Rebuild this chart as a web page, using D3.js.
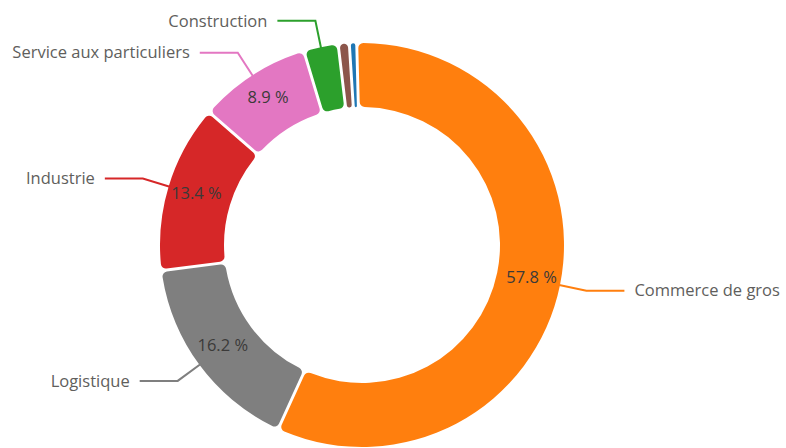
<!DOCTYPE html>
<html>
<head>
<meta charset="utf-8">
<script src="https://cdn.jsdelivr.net/npm/d3@7"></script>
<style>
  html, body { margin: 0; padding: 0; background: #ffffff; }
  svg { display: block; }
  text { font-family: "Open Sans", "Noto Sans", sans-serif; }
</style>
</head>
<body>
<svg id="chart" width="786" height="448"></svg>
<script>
// Répartition par secteur d'activité
const categories = ["Commerce de gros", "Logistique", "Industrie", "Service aux particuliers", "Construction", "Agriculture", "Autres"];
const shares = [57.8, 16.2, 13.4, 8.9, 2.6, 0.7, 0.4];
const colors = ["#ff7f0e", "#7f7f7f", "#d62728", "#e377c2", "#2ca02c", "#8c564b", "#1f77b4"];
// Only the larger sectors carry a name and a value label
const namedSectors = ["Commerce de gros", "Logistique", "Industrie", "Service aux particuliers", "Construction"];
const valueLabelled = ["Commerce de gros", "Logistique", "Industrie", "Service aux particuliers"];

const svg = d3.select("#chart");
const cx = 362, cy = 245;
const outerR = 202, innerR = 138;

const data = categories.map((c, i) => ({ name: c, value: shares[i], color: colors[i] }));

const startAngle = -1.5 * Math.PI / 180;
const pie = d3.pie()
  .value(d => d.value)
  .sort(null)
  .startAngle(startAngle)
  .endAngle(startAngle + 2 * Math.PI)
  .padAngle(0.012);

const arcs = pie(data);

const arc = d3.arc()
  .innerRadius(innerR)
  .outerRadius(outerR)
  .cornerRadius(5);

// Arc used only to place the value labels slightly outside the band's middle
const labelArc = d3.arc()
  .innerRadius(173)
  .outerRadius(173);

const g = svg.append("g").attr("transform", `translate(${cx},${cy})`);

g.selectAll("path.slice")
  .data(arcs)
  .enter()
  .append("path")
  .attr("class", "slice")
  .attr("d", arc)
  .attr("fill", d => d.data.color);

// Percentage labels inside the ring
const fmt = d3.format(".1f");
g.selectAll("text.pct")
  .data(arcs.filter(d => valueLabelled.includes(d.data.name)))
  .enter()
  .append("text")
  .attr("class", "pct")
  .attr("transform", d => {
    const [x, y] = labelArc.centroid(d);
    return `translate(${x},${y - 2})`;
  })
  .attr("text-anchor", "middle")
  .attr("dy", "0.35em")
  .attr("font-size", 16.5)
  .attr("fill", "#3b3a39")
  .text(d => fmt(d.data.value) + " %");

// Leader lines and sector names
const mid = d => (d.startAngle + d.endAngle) / 2;
const polar = (r, a) => [r * Math.sin(a), -r * Math.cos(a)];
const elbowR = 229, tail = 38, gap = 10;

const named = arcs.filter(d => namedSectors.includes(d.data.name));

g.selectAll("polyline.leader")
  .data(named)
  .enter()
  .append("polyline")
  .attr("class", "leader")
  .attr("fill", "none")
  .attr("stroke", d => d.data.color)
  .attr("stroke-width", 2)
  .attr("points", d => {
    const a = mid(d);
    const p0 = polar(outerR - 2, a);
    const p1 = polar(elbowR, a);
    const dir = Math.sin(a) >= 0 ? 1 : -1;
    const p2 = [p1[0] + dir * tail, p1[1]];
    return [p0, p1, p2].map(p => p.join(",")).join(" ");
  });

g.selectAll("text.name")
  .data(named)
  .enter()
  .append("text")
  .attr("class", "name")
  .attr("x", d => {
    const a = mid(d);
    const p1 = polar(elbowR, a);
    const dir = Math.sin(a) >= 0 ? 1 : -1;
    return p1[0] + dir * (tail + gap);
  })
  .attr("y", d => polar(elbowR, mid(d))[1])
  .attr("dy", "0.35em")
  .attr("text-anchor", d => Math.sin(mid(d)) >= 0 ? "start" : "end")
  .attr("font-size", 16.5)
  .attr("fill", "#605e5c")
  .text(d => d.data.name);
</script>
</body>
</html>
